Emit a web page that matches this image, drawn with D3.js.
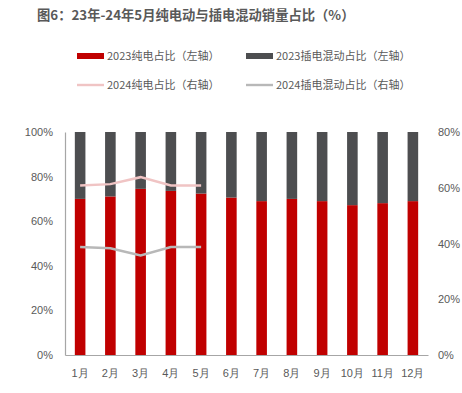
<!DOCTYPE html>
<html>
<head>
<meta charset="utf-8">
<script src="https://cdn.jsdelivr.net/npm/d3@7"></script>
<style>
  body { margin: 0; background: #fff; }
  svg { font-family: "Noto Sans CJK SC", "Noto Sans", sans-serif; }
</style>
</head>
<body>
<div id="chart"></div>
<script>
const months = ["1月", "2月", "3月", "4月", "5月", "6月", "7月", "8月", "9月", "10月", "11月", "12月"];
const bev2023 = [70.0, 71.1, 74.5, 73.6, 72.4, 70.6, 69.0, 70.0, 69.0, 67.2, 68.1, 69.0];
const phev2023 = bev2023.map(v => 100 - v);
const bev2024 = [60.8, 61.3, 63.8, 60.8, 60.8];
const phev2024 = [38.7, 38.3, 35.7, 38.7, 38.7];
const leftTicks = [0, 20, 40, 60, 80, 100];
const rightTicks = [0, 20, 40, 60, 80];

const W = 462, H = 393;
const margin = { top: 132, right: 34, bottom: 38, left: 65 },
    width = W - margin.left - margin.right,
    height = H - margin.top - margin.bottom;

const textColor = "#595959";

const root = d3.select("#chart")
    .append("svg")
        .attr("width", W)
        .attr("height", H);

root.append("text")
    .attr("x", 37)
    .attr("y", 20)
    .style("font-size", "13.3px")
    .style("font-weight", "bold")
    .style("fill", textColor)
    .text("图6：23年-24年5月纯电动与插电混动销量占比（%）");

// legend
const legendData = [
    { label: "2023纯电占比（左轴）", color: "#c00000", type: "rect", x: 77, y: 56 },
    { label: "2023插电混动占比（左轴）", color: "#4d4e50", type: "rect", x: 246, y: 56 },
    { label: "2024纯电占比（右轴）", color: "#f0c4c4", type: "line", x: 77, y: 85 },
    { label: "2024插电混动占比（右轴）", color: "#b8b8b8", type: "line", x: 246, y: 85 }
];

const legend = root.selectAll(".legend")
    .data(legendData)
    .enter().append("g")
    .attr("class", "legend")
    .attr("transform", d => `translate(${d.x},${d.y})`);

legend.append("rect")
    .attr("x", 0)
    .attr("y", d => d.type === "rect" ? -3 : -1.2)
    .attr("width", 27)
    .attr("height", d => d.type === "rect" ? 6 : 2.4)
    .style("fill", d => d.color);

legend.append("text")
    .attr("x", 30)
    .attr("y", 0)
    .attr("dy", ".35em")
    .style("font-size", "11px")
    .style("fill", textColor)
    .text(d => d.label);

const svg = root.append("g")
    .attr("transform", `translate(${margin.left},${margin.top})`);

const x = d3.scaleBand()
    .domain(months)
    .range([0, width])
    .paddingInner(0.65)
    .paddingOuter(0.325);

const y = d3.scaleLinear()
    .domain([0, 100])
    .range([height, 0]);

const yRight = d3.scaleLinear()
    .domain([0, 80])
    .range([height, 0]);

// stacked bars
svg.selectAll(".bev")
    .data(months)
    .enter().append("rect")
    .attr("x", d => x(d))
    .attr("width", x.bandwidth())
    .attr("y", (d, i) => y(bev2023[i]))
    .attr("height", (d, i) => height - y(bev2023[i]))
    .style("fill", "#c00000");

svg.selectAll(".phev")
    .data(months)
    .enter().append("rect")
    .attr("x", d => x(d))
    .attr("width", x.bandwidth())
    .attr("y", (d, i) => y(bev2023[i] + phev2023[i]))
    .attr("height", (d, i) => y(bev2023[i]) - y(bev2023[i] + phev2023[i]))
    .style("fill", "#4d4e50");

// 2024 lines on right axis
const line = d3.line()
    .x((d, i) => x(months[i]) + x.bandwidth() / 2)
    .y(d => yRight(d));

svg.append("path")
    .datum(bev2024)
    .attr("fill", "none")
    .attr("stroke", "#f0c4c4")
    .attr("stroke-width", 2.5)
    .attr("d", line);

svg.append("path")
    .datum(phev2024)
    .attr("fill", "none")
    .attr("stroke", "#b8b8b8")
    .attr("stroke-width", 2.5)
    .attr("d", line);

// axes
const xAxisGroup = svg.append("g")
    .attr("transform", `translate(0,${height})`)
    .call(d3.axisBottom(x).tickSize(0).tickPadding(14));

xAxisGroup.select("path").style("stroke", "#a6a6a6").style("stroke-width", 1.2);
xAxisGroup.selectAll("text").style("fill", textColor).style("font-size", "11px");

const yAxisGroup = svg.append("g")
    .call(d3.axisLeft(y).tickValues(leftTicks).tickFormat(d => d + "%").tickSize(0).tickPadding(12));

yAxisGroup.select("path").style("stroke", "#a6a6a6").style("stroke-width", 1.2);
yAxisGroup.selectAll("text").style("fill", textColor).style("font-size", "11px");

const yRightGroup = svg.append("g")
    .attr("transform", `translate(${width},0)`)
    .call(d3.axisRight(yRight).tickValues(rightTicks).tickFormat(d => d + "%").tickSize(0).tickPadding(10));

yRightGroup.select("path").remove();
yRightGroup.selectAll("text").style("fill", textColor).style("font-size", "11px");
</script>
</body>
</html>
